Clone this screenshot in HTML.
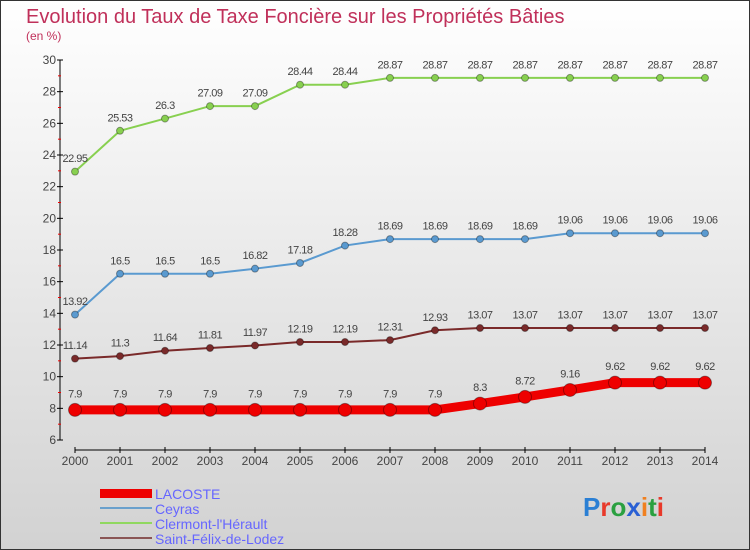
<!DOCTYPE html>
<html><head><meta charset="utf-8"><style>
body{margin:0;}
svg{display:block;font-family:"Liberation Sans",sans-serif;}
</style></head><body>
<svg id="chart" width="750" height="550" xmlns="http://www.w3.org/2000/svg">
<defs><linearGradient id="bg" x1="0" y1="0" x2="0" y2="1"><stop offset="0" stop-color="#ffffff"/><stop offset="1" stop-color="#d2d2d2"/></linearGradient></defs>
<rect x="0.5" y="0.5" width="749" height="549" fill="url(#bg)" stroke="#333"/>
<text x="26" y="23" font-size="20" fill="#c0305a">Evolution du Taux de Taxe Foncière sur les Propriétés Bâties</text>
<text x="26" y="40" font-size="12" fill="#c0305a">(en %)</text>
<g id="axes"></g>
<g id="series"></g>
<g>
<rect x="100" y="489" width="52" height="9" fill="#e00"/>
<text x="155" y="499" font-size="14" fill="#6666ff">LACOSTE</text>
<rect x="100" y="507" width="52" height="2" fill="#6aa0cc"/>
<text x="155" y="514" font-size="14" fill="#6666ff">Ceyras</text>
<rect x="100" y="522" width="52" height="2" fill="#90d860"/>
<text x="155" y="529" font-size="14" fill="#6666ff">Clermont-l'Hérault</text>
<rect x="100" y="537" width="52" height="2" fill="#8a5555"/>
<text x="155" y="544" font-size="14" fill="#6666ff">Saint-Félix-de-Lodez</text>
</g>
<text x="583" y="516" font-size="26" font-weight="bold"><tspan fill="#2a7fd4">P</tspan><tspan fill="#e8392a">r</tspan><tspan fill="#2aa040">o</tspan><tspan fill="#2a60d4">x</tspan><tspan fill="#f08020">i</tspan><tspan fill="#2aa040">t</tspan><tspan fill="#e8392a">i</tspan></text>
</svg>
<script>
const years=[2000,2001,2002,2003,2004,2005,2006,2007,2008,2009,2010,2011,2012,2013,2014];
const yTicks=[6,8,10,12,14,16,18,20,22,24,26,28,30];
const lacoste=[7.9,7.9,7.9,7.9,7.9,7.9,7.9,7.9,7.9,8.3,8.72,9.16,9.62,9.62,9.62];
const ceyras=[13.92,16.5,16.5,16.5,16.82,17.18,18.28,18.69,18.69,18.69,18.69,19.06,19.06,19.06,19.06];
const clermont=[22.95,25.53,26.3,27.09,27.09,28.44,28.44,28.87,28.87,28.87,28.87,28.87,28.87,28.87,28.87];
const saintFelix=[11.14,11.3,11.64,11.81,11.97,12.19,12.19,12.31,12.93,13.07,13.07,13.07,13.07,13.07,13.07];
const NS="http://www.w3.org/2000/svg";
const xS=i=>75+i*45;
const yS=v=>440-(v-6)*(380/24);
function mk(tag,attrs,parent){const e=document.createElementNS(NS,tag);for(const k in attrs)e.setAttribute(k,attrs[k]);parent.appendChild(e);return e;}
const ax=document.getElementById('axes');
let l=mk('line',{x1:60,y1:60,x2:60,y2:440,stroke:'#000'},ax);


l=mk('line',{x1:75,y1:450,x2:705,y2:450,stroke:'#000'},ax);


yTicks.forEach((t,i)=>{
  mk('line',{x1:57,y1:yS(t),x2:63,y2:yS(t),stroke:'#000'},ax);
  if(i<yTicks.length-1)mk('line',{x1:58,y1:yS(t+1),x2:61,y2:yS(t+1),stroke:'#e00'},ax);
  const tx=mk('text',{x:56,y:yS(t)+4,'font-size':12,'text-anchor':'end',fill:'#444'},ax);
  tx.textContent=t;
  
  
});
years.forEach((y,i)=>{
  mk('line',{x1:xS(i),y1:447,x2:xS(i),y2:453,stroke:'#000'},ax);
  const tx=mk('text',{x:xS(i),y:465,'font-size':12,'text-anchor':'middle',fill:'#444'},ax);
  tx.textContent=y;
  
  
});
const sg=document.getElementById('series');
function draw(vals,color,w,r,name){
  const g=mk('g',{},sg);
  
  
  const p=mk('polyline',{points:vals.map((v,i)=>xS(i)+','+yS(v)).join(' '),fill:'none',stroke:color,'stroke-width':w},g);
  
  
  vals.forEach((v,i)=>{
    const c=mk('circle',{cx:xS(i),cy:yS(v),r:r,fill:color,stroke:'rgba(0,0,0,0.35)','stroke-width':1},g);
    
    
    const t=mk('text',{x:xS(i),y:yS(v)-(r+6),'font-size':11,'text-anchor':'middle',fill:'#444','letter-spacing':'-0.5'},g);
    t.textContent=v;
    
    
  });
}
draw(clermont,'#88d050',2,3.5,'clermont');
draw(ceyras,'#5a9ad0',2,3.5,'ceyras');
draw(saintFelix,'#7a2a2a',2,3.5,'saint-felix');
draw(lacoste,'#ee0000',9,6.5,'lacoste');
</script>
</body></html>
